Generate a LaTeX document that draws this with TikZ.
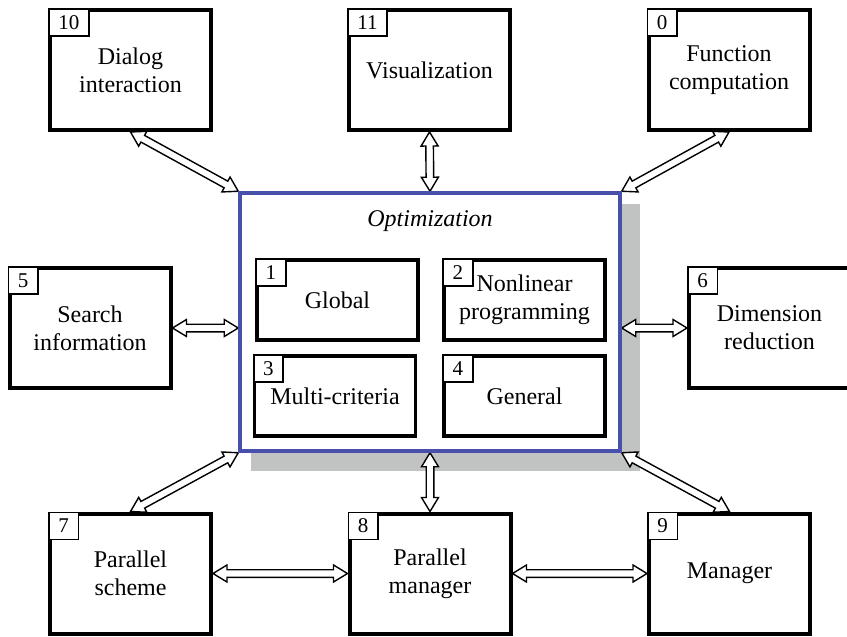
\documentclass[tikz,border=0pt]{standalone}
\usepackage{fontspec}
\setmainfont{Liberation Serif}
\usepackage{tikz}
\usetikzlibrary{calc,positioning,backgrounds}

\definecolor{optblue}{RGB}{72,80,172}
\definecolor{shadowgray}{RGB}{193,194,194}

% hollow double-headed arrow between two points
\newcommand{\dlink}[2]{%
	\draw[link] (#1) -- ($(#1)!14pt!(#2)!8.5pt!90:(#2)$) -- ($(#1)!14pt!(#2)!3.8pt!90:(#2)$)
	-- ($(#2)!14pt!(#1)!3.8pt!-90:(#1)$) -- ($(#2)!14pt!(#1)!8.5pt!-90:(#1)$) -- (#2)
	-- ($(#2)!14pt!(#1)!8.5pt!90:(#1)$) -- ($(#2)!14pt!(#1)!3.8pt!90:(#1)$)
	-- ($(#1)!14pt!(#2)!3.8pt!-90:(#2)$) -- ($(#1)!14pt!(#2)!8.5pt!-90:(#2)$) -- cycle;}

\begin{document}
\begin{tikzpicture}[x=1pt,y=-1pt,font=\fontsize{24}{28}\selectfont]
	\tikzstyle{block}=[rectangle, draw=black, fill=white, line width=4pt, minimum width=161pt, minimum height=120pt, align=center, inner sep=2pt]
	\tikzstyle{subblock}=[block, line width=3.5pt, minimum height=80pt]
	\tikzstyle{main}=[rectangle, draw=optblue, fill=white, line width=3.5pt, minimum width=380pt, minimum height=258pt]
	\tikzstyle{tag}=[rectangle, draw=black, fill=white, line width=1.8pt, inner xsep=9.5pt, inner ysep=0pt, minimum height=27pt, anchor=north west, font=\fontsize{21}{22}\selectfont]
	\tikzstyle{link}=[draw=black, fill=white, line width=1.4pt, line join=miter]
	
	\useasboundingbox (0,0) rectangle (847,637);
	
	% optimization block
	\node[main] (opt) at (430,322) {};
	\node[font=\fontsize{24}{28}\selectfont\itshape] (title) at (430,221) {Optimization};
	\node[subblock] (1) at (337.5,300) {Global};
	\node[subblock] (2) at (524.5,300) {Nonlinear\\programming};
	\node[subblock] (3) at (335,396) {Multi-criteria};
	\node[subblock] (4) at (524.5,396) {General};
	
	% surrounding blocks
	\node[block] (10) at (130.5,70) {Dialog\\interaction};
	\node[block] (11) at (429.5,70) {Visualization};
	\node[block] (0) at (729,70) {Function\\computation};
	\node[block] (5) at (90,328) {Search\\information};
	\node[block] (6) at (769.5,328) {Dimension\\reduction};
	\node[block] (7) at (130.5,573.5) {Parallel\\scheme};
	\node[block] (8) at (430,573.5) {Parallel\\manager};
	\node[block] (9) at (729.5,573.5) {Manager};
	
	\foreach \n in {0,...,11}
		\node[tag] (t\n) at (\n.north west) {\n};
	
	\begin{scope}[on background layer]
		\fill[shadowgray] ($(opt.north west)+(13,13)$) rectangle ($(opt.south east)+(18,18)$);
		\dlink{10.south}{opt.north west}
		\dlink{11.south}{opt.north}
		\dlink{0.south}{opt.north east}
		\dlink{5.east}{5.east -| opt.west}
		\dlink{6.west -| opt.east}{6.west}
		\dlink{7.north}{opt.south west}
		\dlink{8.north}{opt.south}
		\dlink{9.north}{opt.south east}
		\dlink{7.east}{8.west}
		\dlink{8.east}{9.west}
	\end{scope}
	
\end{tikzpicture}
\end{document}
